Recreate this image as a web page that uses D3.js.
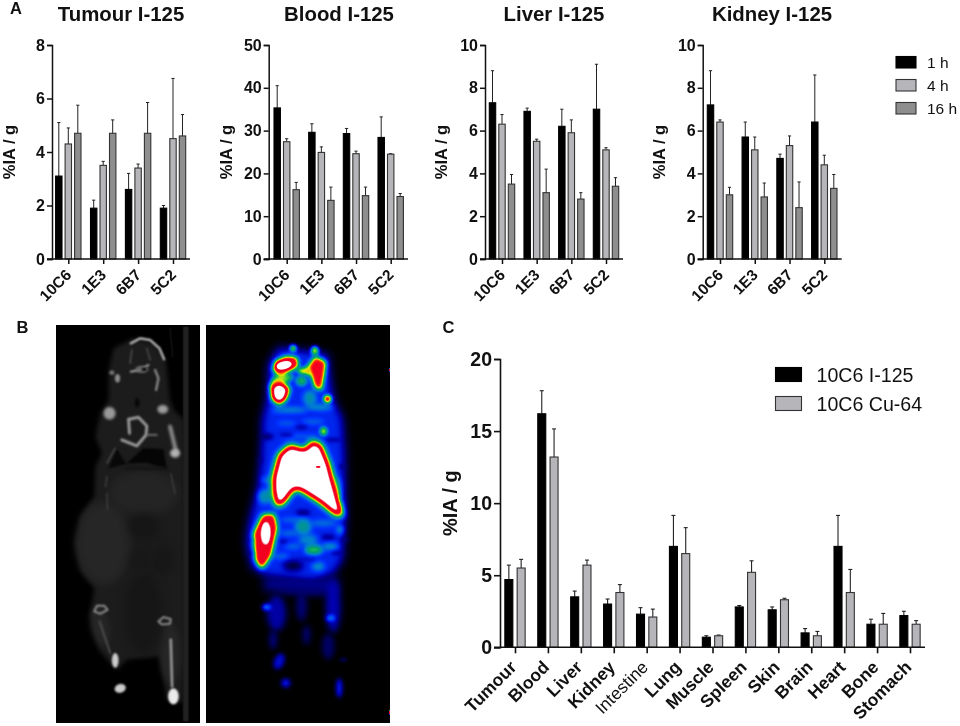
<!DOCTYPE html>
<html><head><meta charset="utf-8">
<script src="https://d3js.org/d3.v7.min.js"></script>
<style>
html,body{margin:0;padding:0;background:#fff}
#wrap{position:relative;width:960px;height:726px;overflow:hidden}
svg{position:absolute;left:0;top:0}
canvas{position:absolute}
text{font-family:"Liberation Sans",Arial,sans-serif;fill:#111}
</style></head><body><div id="wrap"><canvas id="ct"></canvas><canvas id="pet"></canvas><svg id="s" width="960" height="726"></svg></div>
<script>
// ---------- DATA ----------
const antibodies = ["10C6","1E3","6B7","5C2"];
const timepoints = ["1 h","4 h","16 h"];
const tumour1h=[3.1,1.9,2.6,1.9], tumour4h=[4.3,3.5,3.4,4.5], tumour16h=[4.7,4.7,4.7,4.6];
const tumourErr1h=[2.0,0.3,0.6,0.1], tumourErr4h=[0.6,0.15,0.15,2.25], tumourErr16h=[1.05,0.5,1.15,0.8];
const blood1h=[35.3,29.6,29.3,28.4], blood4h=[27.4,24.9,24.6,24.5], blood16h=[16.2,13.7,14.8,14.6];
const bloodErr1h=[5.2,2.0,1.2,4.8], bloodErr4h=[0.7,1.3,0.6,0.1], bloodErr16h=[1.7,3.1,2.0,0.7];
const liver1h=[7.3,6.9,6.2,7.0], liver4h=[6.3,5.5,5.9,5.1], liver16h=[3.5,3.1,2.8,3.4];
const liverErr1h=[1.5,0.15,0.8,2.1], liverErr4h=[0.45,0.1,0.6,0.1], liverErr16h=[0.45,1.1,0.3,0.4];
const kidney1h=[7.2,5.7,4.7,6.4], kidney4h=[6.4,5.1,5.3,4.4], kidney16h=[3.0,2.9,2.4,3.3];
const kidneyErr1h=[1.6,0.7,0.2,2.2], kidneyErr4h=[0.1,0.6,0.45,0.45], kidneyErr16h=[0.35,0.65,1.2,0.65];
const organs=["Tumour","Blood","Liver","Kidney","Intestine","Lung","Muscle","Spleen","Skin","Brain","Heart","Bone","Stomach"];
const isotopes=["10C6 I-125","10C6 Cu-64"];
const i125=[4.7,16.2,3.5,3.0,2.3,7.0,0.7,2.8,2.6,1.0,7.0,1.6,2.2];
const i125Err=[1.0,1.6,0.4,0.35,0.45,2.15,0.1,0.1,0.2,0.3,2.15,0.35,0.3];
const cu64=[5.5,13.2,5.7,3.8,2.1,6.5,0.8,5.2,3.3,0.8,3.8,1.6,1.6];
const cu64Err=[0.6,1.95,0.35,0.55,0.55,1.8,0.05,0.8,0.1,0.3,1.6,0.75,0.25];
const panelA=[
 {title:"Tumour I-125",max:8,step:2,vals:[tumour1h,tumour4h,tumour16h],errs:[tumourErr1h,tumourErr4h,tumourErr16h]},
 {title:"Blood I-125",max:50,step:10,vals:[blood1h,blood4h,blood16h],errs:[bloodErr1h,bloodErr4h,bloodErr16h]},
 {title:"Liver I-125",max:10,step:2,vals:[liver1h,liver4h,liver16h],errs:[liverErr1h,liverErr4h,liverErr16h]},
 {title:"Kidney I-125",max:10,step:2,vals:[kidney1h,kidney4h,kidney16h],errs:[kidneyErr1h,kidneyErr4h,kidneyErr16h]}
];
// ---------- LAYOUT ----------
const layoutA=[
 {axisX:52,first:68.3,last:173,end:190,titleX:121,labelX:11},
 {axisX:268.7,first:286.7,last:390.7,end:408,titleX:339,labelX:228},
 {axisX:485,first:502,last:606,end:623,titleX:554,labelX:443},
 {axisX:702.7,first:720,last:824.3,end:841.7,titleX:772,labelX:661}
];
const fillA=["#000","#b6b6ba","#8e8e8e"], strokeA=["#000","#333","#333"];
const svg=d3.select("#s");

function barChart(g,o){
  const y=d3.scaleLinear().domain([0,o.max]).range([o.y0,o.y1]);
  const x=d3.scalePoint().domain(o.cats).range([o.first,o.last]);
  const off=d3.scalePoint().domain(o.series).range([-o.pitch*(o.series.length-1)/2,o.pitch*(o.series.length-1)/2]);
  o.series.forEach((s,k)=>{
    const row=o.cats.map((c,i)=>({c,v:o.vals[k][i],e:o.errs[k][i]}));
    const gs=g.append("g");
    gs.selectAll("line.e").data(row).join("line").attr("class","e")
      .attr("x1",d=>x(d.c)+off(s)).attr("x2",d=>x(d.c)+off(s))
      .attr("y1",d=>y(d.v)).attr("y2",d=>y(d.v+d.e)).attr("stroke","#222").attr("stroke-width",o.errW);
    gs.selectAll("line.c").data(row).join("line").attr("class","c")
      .attr("x1",d=>x(d.c)+off(s)-o.cap).attr("x2",d=>x(d.c)+off(s)+o.cap)
      .attr("y1",d=>y(d.v+d.e)).attr("y2",d=>y(d.v+d.e)).attr("stroke","#222").attr("stroke-width",o.errW);
    gs.selectAll("rect").data(row).join("rect")
      .attr("x",d=>x(d.c)+off(s)-o.barW/2+.5).attr("width",o.barW-1)
      .attr("y",d=>y(d.v)).attr("height",d=>y(0)-y(d.v))
      .attr("fill",o.fills[k]).attr("stroke",o.strokes[k]).attr("stroke-width",1.1);
  });
  const ya=g.append("g").attr("transform",`translate(${o.axisX},0)`)
    .call(d3.axisLeft(y).tickValues(d3.range(0,o.max+1e-6,o.step)).tickSize(o.tick).tickPadding(2).tickFormat(d3.format("d")));
  ya.selectAll("text").style("font-size",o.yFont+"px").style("font-weight","bold").attr("fill","#111");
  const xa=g.append("g").attr("transform",`translate(0,${o.y0})`)
    .call(d3.axisBottom(x).tickSize(o.tick));
  xa.select(".domain").attr("d",`M${o.axisX-o.tick},0H${o.end}`);
  xa.selectAll("text").style("font-size",o.xFont+"px")
    .style("font-weight",d=>d==="Intestine"?"normal":"bold")
    .attr("text-anchor","end").attr("dy",0).attr("y",0).attr("fill","#111")
    .attr("transform",`translate(${o.xDx},${o.xDy}) rotate(-45)`);
  g.selectAll(".domain,.tick line").attr("stroke","#111").attr("stroke-width",o.axW);
  g.append("text").attr("transform",`translate(${o.labelX},${(o.y0+o.y1)/2}) rotate(-90)`)
    .attr("text-anchor","middle").attr("dominant-baseline","middle")
    .style("font-size",o.labFont+"px").style("font-weight","bold").text("%IA / g");
}

panelA.forEach((p,i)=>{
  const L=layoutA[i], g=svg.append("g");
  barChart(g,{cats:antibodies,series:timepoints,vals:p.vals,errs:p.errs,max:p.max,step:p.step,
    y0:259,y1:45,axisX:L.axisX,first:L.first,last:L.last,end:L.end,labelX:L.labelX,
    pitch:9.5,barW:7.4,cap:1.6,errW:1,fills:fillA,strokes:strokeA,tick:5,axW:1.5,yFont:16,xFont:15.5,labFont:16.5,xDx:3.5,xDy:17});
  svg.append("text").attr("x",L.titleX).attr("y",21).attr("text-anchor","middle")
    .style("font-size","20.4px").style("font-weight","bold").text(p.title);
});
barChart(svg.append("g"),{cats:organs,series:isotopes,vals:[i125,cu64],errs:[i125Err,cu64Err],max:20,step:5,
  y0:647.3,y1:359,axisX:500,first:515,last:910,end:925,labelX:452,
  pitch:12.3,barW:9,cap:2,errW:1.1,fills:["#000","#b6b6ba"],strokes:["#000","#333"],tick:6,axW:1.6,yFont:19.5,xFont:17.5,labFont:20,xDx:2,xDy:21});

// legends
const legA=svg.append("g");
timepoints.forEach((t,i)=>{
  legA.append("rect").attr("x",896).attr("y",56.5+i*23).attr("width",20).attr("height",11.5)
    .attr("fill",fillA[i]).attr("stroke",strokeA[i]).attr("stroke-width",1.1);
  legA.append("text").attr("x",927).attr("y",67.5+i*23).style("font-size","15.5px").text(t);
});
const legC=svg.append("g");
isotopes.forEach((t,i)=>{
  legC.append("rect").attr("x",775.5).attr("y",367.5+i*29).attr("width",26).attr("height",14)
    .attr("fill",["#000","#b6b6ba"][i]).attr("stroke",["#000","#333"][i]).attr("stroke-width",1.1);
  legC.append("text").attr("x",816.5).attr("y",381.5+i*29).style("font-size","19.6px").text(t);
});
[["A",10,14],["B",16.5,333],["C",442.5,333]].forEach(([t,x,y])=>
  svg.append("text").attr("x",x).attr("y",y).style("font-size","16.5px").style("font-weight","bold").text(t));

// ---------- PANEL B illustration (not data) ----------
// Coordinates below are in a 3x working space; canvases are shown at 1/3 size.
function setup(id,x0,x1,y0,y1){
  const c=document.getElementById(id);
  c.width=x1-x0;c.height=y1-y0;
  c.style.left=(x0/3)+"px";c.style.top=(320+y0/3)+"px";
  c.style.width=((x1-x0)/3)+"px";c.style.height=((y1-y0)/3)+"px";
  const ctx=c.getContext("2d",{willReadFrequently:true});
  ctx.fillStyle="#000";ctx.fillRect(0,0,c.width,c.height);
  ctx.translate(-x0,-y0);
  return {c,ctx};
}
function paint(ctx,l){
  const v=Math.round(l.v*255);
  const col=`rgb(${v},${v},${v})`;
  ctx.save();
  ctx.filter=`blur(${l.b}px)`;
  ctx.globalCompositeOperation=l.m||"lighten";
  ctx.fillStyle=col;ctx.strokeStyle=col;
  ctx.beginPath();
  if(l.e){ctx.ellipse(l.e[0],l.e[1],l.e[2],l.e[3],l.e[4]||0,0,7);ctx.fill();}
  if(l.p){ctx.moveTo(l.p[0][0],l.p[0][1]);l.p.slice(1).forEach(q=>ctx.lineTo(q[0],q[1]));
    if(l.w){ctx.lineWidth=l.w;ctx.lineJoin="round";ctx.lineCap="round";ctx.stroke();}else{ctx.closePath();ctx.fill();}}
  ctx.restore();
}
const D="source-over";
// PET
const petLayers=[
 {v:.26,b:14,p:[[835,80],[985,100],[995,190],[1005,245],[1030,295],[1036,400],[1038,600],[1030,720],[1000,765],[940,785],[800,770],[755,745],[738,670],[745,610],[772,500],[782,400],[785,300],[800,235],[805,130]]},
 {v:.15,b:14,p:[[790,770],[1020,770],[1015,825],[790,815]]},
 {v:.4,b:8,e:[870,270,55,9]},{v:.42,b:8,e:[960,262,40,9]},{v:.42,b:9,e:[930,235,20,25]},
 {v:.37,b:8,e:[940,305,35,7]},{v:.37,b:8,e:[860,310,30,6]},{v:.36,b:8,e:[900,350,60,6]},
 {v:.42,b:9,e:[795,530,20,22]},{v:.36,b:8,e:[800,480,15,10]},{v:.44,b:9,e:[910,620,25,25]},{v:.42,b:10,e:[925,660,30,14]},
 {v:.52,b:8,e:[942,690,28,14]},{v:.4,b:8,e:[990,680,25,12]},{v:.37,b:8,e:[870,640,30,8]},{v:.37,b:8,e:[880,600,40,7]},
 {v:.37,b:8,e:[970,610,40,10]},{v:.37,b:8,e:[880,680,25,8]},{v:.4,b:8,e:[955,740,20,14]},{v:.37,b:8,e:[845,710,25,8]},
 {v:.36,b:9,e:[1010,500,14,30]},{v:.42,b:8,e:[1020,630,10,15]},
 {v:.1,b:7,m:D,e:[910,578,22,7]},{v:.1,b:7,m:D,e:[985,652,22,6]},{v:.05,b:10,m:D,e:[880,738,30,14]},
 {v:.1,b:7,m:D,e:[800,350,22,8]},{v:.16,b:6,m:D,e:[905,322,18,6]},{v:.14,b:6,m:D,e:[860,345,22,5]},
 {v:.14,b:6,m:D,e:[1000,360,25,5]},{v:.16,b:6,m:D,e:[850,665,14,5]},
 {v:.14,b:6,m:D,e:[770,660,25,5]},{v:.12,b:6,m:D,e:[755,700,22,5]},{v:.12,b:6,m:D,e:[1030,440,14,5]},{v:.12,b:6,m:D,e:[1030,540,12,5]},
 {v:.14,b:6,m:D,e:[1035,660,14,5]},{v:.12,b:6,m:D,e:[780,420,10,5]},{v:.14,b:6,m:D,e:[1010,700,18,5]},{v:.18,b:6,m:D,e:[920,720,30,4]},
 {v:.17,b:10,e:[830,880,30,55]},{v:.18,b:10,e:[1000,860,24,80]},{v:.12,b:9,e:[905,860,18,45]},{v:.13,b:10,e:[925,810,95,14]},
 {v:.11,b:8,e:[985,980,20,40]},{v:.21,b:7,e:[838,1025,16,26,.4]},{v:.23,b:7,e:[858,1090,15,14]},{v:.25,b:7,e:[1018,1105,10,30]},
 {v:.12,b:8,e:[820,960,14,30]},{v:.11,b:5,e:[1030,1020,12,6]},{v:.13,b:9,e:[920,945,12,30]},
 {v:.42,b:7,e:[800,862,14,9]},{v:.42,b:7,e:[992,895,14,8]},
 // head
 {v:.58,b:6,e:[880,85,11,11]},{v:.6,b:6,e:[945,92,12,14]},
 {v:.56,b:7,p:[[808,205],[818,172],[850,158],[885,170],[860,190],[835,185]]},
 {v:.82,b:8,p:[[826,122],[860,108],[892,112],[896,140],[862,158],[835,166],[818,150]]},
 {v:1,b:5,e:[852,136,24,12,-.2]},
 {v:1,b:9,p:[[812,198],[840,184],[870,205],[858,240],[838,254],[816,238]]},
 {v:.76,b:8,p:[[922,142],[945,108],[980,125],[975,162],[966,212],[944,204],[934,168]]},
 {v:.62,b:6,p:[[888,148],[938,136],[940,168],[900,162]]},
 {v:.5,b:7,e:[905,183,17,15]},{v:.76,b:6,e:[983,237,12,12]},{v:.6,b:6,e:[971,334,11,13]},
 // liver
 {v:1,b:11,p:[[818,472],[836,403],[870,374],[915,388],[935,362],[964,372],[988,430],[1006,500],[1032,590],[1005,586],[960,549],[905,514],[885,507],[850,554],[828,560],[818,512]]},
 {v:.78,b:2,m:D,e:[955,441,9,3]},
 // tumour
 {v:.83,b:9,p:[[788,584],[824,582],[833,625],[814,708],[786,750],[767,722],[761,640]]},
 {v:1,b:6,e:[798,640,13,34]},
 {v:.9,b:1,e:[1170,150,3,5]},{v:.9,b:1,e:[1170,1178,3,7]}
];
const pet=setup("pet",619,1170,15,1210);
petLayers.forEach(l=>paint(pet.ctx,l));
const petRamp=d3.scaleLinear()
  .domain([0,.08,.18,.28,.38,.47,.54,.6,.67,.74,.86,.92])
  .range(["#000000","#000040","#0000b0","#0030ff","#0080d0","#00a070","#30d040","#e8e800","#ff5000","#f50020","#f00020","#ffffff"])
  .clamp(true);
{
  const im=pet.ctx.getImageData(0,0,pet.c.width,pet.c.height),d=im.data;
  const lut=d3.range(256).map(i=>d3.rgb(petRamp(i/255)));
  for(let i=0;i<d.length;i+=4){const q=lut[d[i]];d[i]=q.r;d[i+1]=q.g;d[i+2]=q.b;}
  pet.ctx.putImageData(im,0,0);
}
// CT
const ctLayers=[
 {v:.11,b:7,p:[[340,85],[400,55],[465,72],[498,125],[510,240],[522,270],[552,300],[556,600],[556,1000],[548,1150],[500,1140],[480,1010],[380,1020],[350,1052],[295,990],[270,880],[282,805],[240,750],[224,670],[240,590],[282,530],[285,440],[305,400],[285,350],[300,280],[325,240],[325,150]]},
 {v:.15,b:12,e:[310,670,82,125]},{v:.14,b:12,e:[430,520,105,70]},{v:.15,b:9,e:[300,920,28,60,-.2]},{v:.15,b:9,e:[510,1000,30,90]},
 {v:.085,b:12,m:D,e:[430,620,45,40]},{v:.09,b:12,m:D,e:[490,720,30,45]},{v:.085,b:14,m:D,e:[430,880,55,120]},{v:.095,b:10,m:D,e:[420,720,30,35]},
 {v:.03,b:3,m:D,p:[[325,445],[350,388],[378,432]]},
 {v:.02,b:3,m:D,p:[[380,430],[430,385],[490,388],[500,448],[440,428]]},
 {v:.08,b:4,m:D,p:[[375,440],[500,440],[500,450],[375,450]]},
 {v:.13,b:2,p:[[549,20],[566,20],[566,1205],[549,1205]]},
 {v:.1,b:2,w:3,p:[[510,25],[518,110]]},
 {v:.75,b:3,w:7,p:[[392,70],[420,55],[450,60],[478,85],[492,118]]},
 {v:.3,b:3,w:5,p:[[395,90],[390,130]]},{v:.28,b:3,w:5,p:[[440,85],[450,120]]},
 {v:.65,b:3,w:6,p:[[392,155],[420,150],[445,135]]},{v:.4,b:3,e:[425,148,20,11]},{v:.02,b:3,m:D,e:[432,148,8,5]},
 {v:.55,b:3,w:7,p:[[465,150],[475,175],[468,210]]},{v:.55,b:3,e:[352,175,8,13]},{v:.45,b:3,e:[335,158,8,7]},
 {v:.03,b:3,m:D,e:[411,248,7,14]},
 {v:.6,b:4,e:[328,280,18,19]},{v:.62,b:4,e:[488,268,16,13]},
 {v:.6,b:3,w:9,p:[[388,340],[385,298],[415,292],[440,318],[438,345],[410,378],[365,360]]},
 {v:.42,b:3,w:6,p:[[440,345],[470,345]]},
 {v:.55,b:4,w:12,p:[[510,320],[528,395]]},{v:.7,b:4,e:[525,400,15,13]},
 {v:.32,b:3,w:4,p:[[345,385],[320,430]]},{v:.28,b:3,w:4,p:[[320,470],[316,500]]},{v:.26,b:3,w:4,p:[[512,462],[525,520]]},{v:.26,b:3,w:4,p:[[320,520],[322,570]]},
 {v:.55,b:3,w:6,p:[[282,875],[290,858],[312,858],[322,870],[300,882],[282,875]]},
 {v:.55,b:3,w:6,p:[[475,905],[490,892],[512,898],[510,912],[485,914],[475,905]]},
 {v:.3,b:3,w:6,p:[[298,905],[330,1000]]},{v:.8,b:3,e:[345,1022,10,22]},{v:.8,b:3,e:[360,1106,17,13,-.3]},
 {v:.6,b:3,w:8,p:[[512,960],[516,1100]]},{v:.92,b:3,e:[520,1130,16,24]}
];
const ct=setup("ct",167,600,15,1210);
ctLayers.forEach(l=>paint(ct.ctx,l));
</script></body></html>
